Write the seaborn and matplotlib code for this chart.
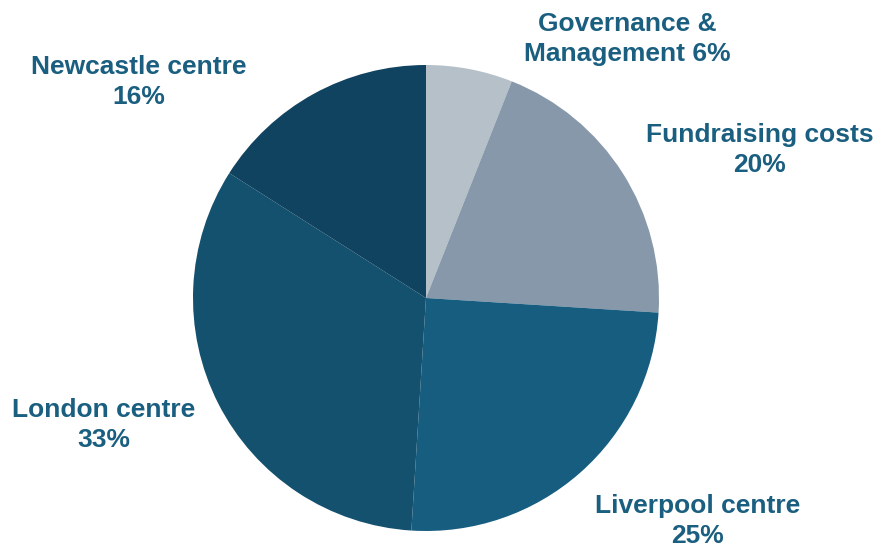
import matplotlib
matplotlib.use("Agg")
import matplotlib.pyplot as plt
import seaborn as sns

# Expenditure split by area
categories = ["Governance &\nManagement", "Fundraising costs", "Liverpool centre",
              "London centre", "Newcastle centre"]
shares = [6, 20, 25, 33, 16]
colors = ["#b5c0c9", "#8698aa", "#175d80", "#14516f", "#10435f"]

sns.set_theme(style="white")
plt.rcParams["font.family"] = ["Liberation Sans", "DejaVu Sans"]

W, H = 877, 547
fig = plt.figure(figsize=(W / 100, H / 100), dpi=100)
ax = fig.add_axes([0, 0, 1, 1])

cx, cy, r = 426, 298, 233
# y axis is inverted, so counterclock=True here renders clockwise on screen
wedges, _ = ax.pie(shares, colors=colors, startangle=-90, counterclock=True,
                   center=(cx, cy), radius=r, frame=True,
                   wedgeprops=dict(linewidth=0))
ax.set_xlim(0, W)
ax.set_ylim(H, 0)
ax.set_aspect("equal")
ax.axis("off")

label_pos = [(627, 39, " "), (760, 150, "\n"), (698, 521, "\n"),
             (104, 425, "\n"), (139, 82, "\n")]
txt_color = "#1a5e80"
for cat, val, (x, y, sep) in zip(categories, shares, label_pos):
    ax.text(x, y, f"{cat}{sep}{val}%", ha="center", va="center",
            fontsize=19, fontweight="bold", color=txt_color,
            linespacing=1.3)

fig.savefig("out.png", dpi=100)
